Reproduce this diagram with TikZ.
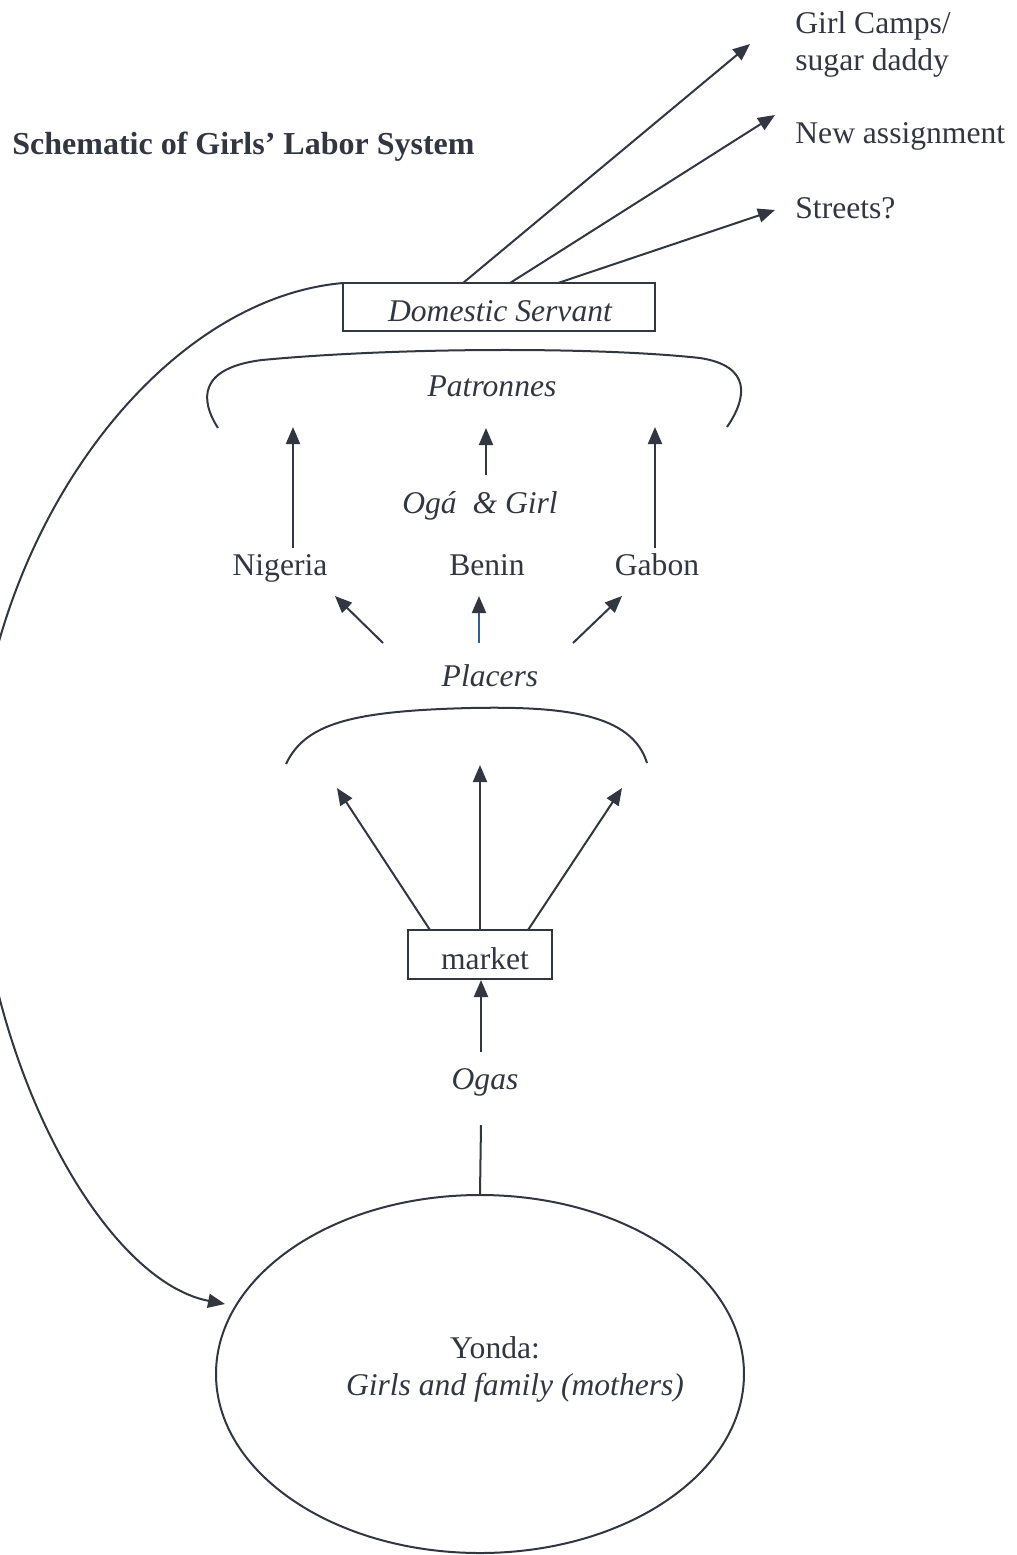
\documentclass[tikz,border=0pt]{standalone}
\usepackage{fontspec}
\setmainfont{Liberation Serif}
\usetikzlibrary{arrows.meta,shapes.geometric}
\definecolor{ink}{RGB}{50,54,64}
\definecolor{bluish}{RGB}{45,95,150}
\begin{document}
\begin{tikzpicture}[x=0.5pt,y=-0.5pt,
  every node/.style={text=ink, inner sep=0pt, font=\fontsize{15.8pt}{19pt}\selectfont},
  lbl/.style={anchor=base},
  lblit/.style={anchor=base, font=\fontsize{15.8pt}{19pt}\selectfont\itshape},
  lblw/.style={anchor=base west},
  conn/.style={draw=ink, line width=1pt, -{Triangle[length=8.5pt,width=7pt,color=ink]}},
  plainline/.style={draw=ink, line width=1pt},
  boxed/.style={draw=ink, line width=0.8pt, rectangle},
  brace/.style={draw=ink, line width=1pt}]
\useasboundingbox (0,0) rectangle (1017,1555);

% title
\node[anchor=base west, font=\fontsize{16pt}{19pt}\selectfont\bfseries] (title) at (12,154) {Schematic of Girls’ Labor System};

% outcomes
\node[lblw] (camps) at (795,33) {Girl Camps/};
\node[lblw] (sugar) at (795,70) {sugar daddy};
\node[lblw] (newas) at (795,143) {New assignment};
\node[lblw] (streets) at (795,218) {Streets?};
\coordinate (tcamps) at (750,44);
\coordinate (tnew) at (775,115);
\coordinate (tstreet) at (775,210);

% domestic servant
\node[boxed, minimum width=156pt, minimum height=24pt] (ds) at (499,307) {};
\node[lblit] (dstext) at (500,321) {Domestic Servant};
\coordinate (ds1) at (463,283);
\coordinate (ds2) at (510,283);
\coordinate (ds3) at (558,283);
\coordinate (dsw) at (343,283);
\draw[conn] (ds1) -- (tcamps);
\draw[conn] (ds2) -- (tnew);
\draw[conn] (ds3) -- (tstreet);

% patronnes brace
\draw[brace] (218,428) .. controls (200,400) and (198,368) .. (262,360)
  .. controls (400,347) and (600,347) .. (700,358)
  .. controls (752,366) and (747,398) .. (727,427);
\node[lblit] (patr) at (492,396) {Patronnes};

% countries
\node[lbl] (nig) at (280,575) {Nigeria};
\node[lbl] (ben) at (487,575) {Benin};
\node[lbl] (gab) at (657,575) {Gabon};
\node[lblit] (oga) at (480,513) {Ogá\ \ \& Girl};

\coordinate (nigtop) at (293,548);
\coordinate (nigtip) at (293,427);
\coordinate (ogatop) at (486,475);
\coordinate (ogatip) at (486,428);
\coordinate (gabtop) at (655,548);
\coordinate (gabtip) at (655,427);
\draw[conn] (nigtop) -- (nigtip);
\draw[conn] (ogatop) -- (ogatip);
\draw[conn] (gabtop) -- (gabtip);

% placers
\node[lblit] (plac) at (490,686) {Placers};
\coordinate (pl1) at (383,643);
\coordinate (pl1t) at (335,596);
\coordinate (pl2) at (479,643);
\coordinate (pl2t) at (479,596);
\coordinate (pl3) at (573,643);
\coordinate (pl3t) at (622,596);
\draw[conn] (pl1) -- (pl1t);
\draw[conn, draw=bluish] (pl2) -- (pl2t);
\draw[conn] (pl3) -- (pl3t);

% placers brace
\draw[brace] (286,764) .. controls (305,724) and (350,711) .. (470,708)
  .. controls (565,706) and (632,714) .. (647,763);

% market
\node[boxed, minimum width=72pt, minimum height=24.5pt] (market) at (480,954.5) {};
\node[lbl] (mtext) at (485,969) {market};
\coordinate (m1) at (430,930);
\coordinate (m1t) at (337,788);
\coordinate (m2) at (480,930);
\coordinate (m2t) at (480,765);
\coordinate (m3) at (528,930);
\coordinate (m3t) at (622,788);
\draw[conn] (m1) -- (m1t);
\draw[conn] (m2) -- (m2t);
\draw[conn] (m3) -- (m3t);

% ogas
\node[lblit] (ogas) at (485,1089) {Ogas};
\coordinate (ogasup) at (481,1052);
\coordinate (mbot) at (481,980);
\draw[conn] (ogasup) -- (mbot);

% yonda
\node[draw=ink, line width=1pt, ellipse, minimum width=264pt, minimum height=179pt] (yonda) at (480,1374) {};
\node[lbl] (yt1) at (495,1358) {Yonda:};
\node[lblit] (yt2) at (515,1395) {Girls and family (mothers)};
\coordinate (ogasdown) at (481,1125);
\draw[plainline] (ogasdown) -- (yonda.north);

% return loop
\coordinate (yin) at (225,1304);
\draw[conn] (dsw) .. controls (150,300) and (-25,550) .. (-25,810)
  .. controls (-25,1050) and (100,1280) .. (yin);
\end{tikzpicture}
\end{document}
